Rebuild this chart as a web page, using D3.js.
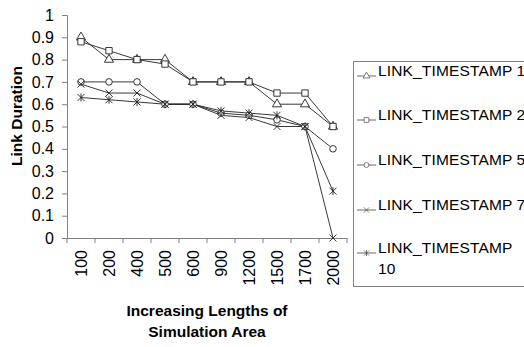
<!DOCTYPE html>
<html>
<head>
<meta charset="utf-8">
<script src="https://cdn.jsdelivr.net/npm/d3@7"></script>
<style>
  body { margin: 0; background: #fff; }
  svg { display: block; font-family: "Liberation Sans", Arial, sans-serif; }
</style>
</head>
<body>
<div id="container"></div>
<script>
// DATA
const categories = ["100","200","400","500","600","900","1200","1500","1700","2000"];
const seriesNames = ["LINK_TIMESTAMP 1","LINK_TIMESTAMP 2","LINK_TIMESTAMP 5","LINK_TIMESTAMP 7","LINK_TIMESTAMP 10"];
const ts1  = [0.90, 0.80, 0.80, 0.80, 0.70, 0.70, 0.70, 0.60, 0.60, 0.50];
const ts2  = [0.88, 0.84, 0.80, 0.78, 0.70, 0.70, 0.70, 0.65, 0.65, 0.50];
const ts5  = [0.70, 0.70, 0.70, 0.60, 0.60, 0.56, 0.55, 0.53, 0.50, 0.40];
const ts7  = [0.69, 0.65, 0.65, 0.60, 0.60, 0.55, 0.54, 0.50, 0.50, 0.00];
const ts10 = [0.63, 0.62, 0.61, 0.60, 0.60, 0.57, 0.56, 0.55, 0.50, 0.21];
const yTicks = d3.range(0, 11).map(i => i / 10);

const allSeries = [ts1, ts2, ts5, ts7, ts10];
const markerKinds = ["triangle", "square", "circle", "x", "star"];

//SVG
const width = 524;
const height = 347;
const svg = d3.select("#container").append("svg")
    .attr("width", width)
    .attr("height", height);

//SCALES
const x = d3.scaleBand().domain(categories).range([67, 347]);
const y = d3.scaleLinear().domain([0, 1]).range([238, 15]);

// marker paths
function markerPath(kind) {
  if (kind === "triangle") return d3.symbol(d3.symbolTriangle, 36)();
  if (kind === "square") return d3.symbol(d3.symbolSquare, 40)();
  if (kind === "circle") return d3.symbol(d3.symbolCircle, 34)();
  const r = 3.5;
  if (kind === "x") return `M${-r},${-r}L${r},${r}M${-r},${r}L${r},${-r}`;
  // asterisk
  return `M${-r},${-r}L${r},${r}M${-r},${r}L${r},${-r}M0,${-r - 0.5}L0,${r + 0.5}`;
}

//AXES
const yAxis = svg.append("g")
    .attr("transform", "translate(67,0)")
    .call(d3.axisLeft(y).tickValues(yTicks).tickSize(5).tickPadding(8)
      .tickFormat(d3.format(".1~f")));
yAxis.select(".domain").attr("stroke", "#808080");
yAxis.selectAll(".tick line").attr("stroke", "#808080");
yAxis.selectAll(".tick text").attr("font-size", 16).attr("fill", "#000")
    .attr("font-family", "Liberation Sans, Arial, sans-serif");

const xAxis = svg.append("g")
    .attr("transform", "translate(0,238)")
    .call(d3.axisBottom(x).tickSize(0).tickSizeOuter(0).tickPadding(0));
xAxis.select(".domain").attr("stroke", "#808080");
xAxis.selectAll(".tick text")
    .attr("font-size", 16)
    .attr("font-family", "Liberation Sans, Arial, sans-serif")
    .attr("fill", "#000")
    .attr("transform", "rotate(-90)")
    .attr("text-anchor", "end")
    .attr("x", -12)
    .attr("y", 0)
    .attr("dy", "0.35em");

// boundary ticks between categories
const bounds = categories.map(c => x(c)).concat([x.range()[1]]);
svg.append("g").selectAll("line")
  .data(bounds)
  .enter().append("line")
    .attr("x1", d => d).attr("x2", d => d)
    .attr("y1", 238).attr("y2", 243)
    .attr("stroke", "#808080");

// AXIS TITLES
svg.append("text")
    .attr("transform", "translate(22,116) rotate(-90)")
    .attr("text-anchor", "middle")
    .attr("font-size", 15.5)
    .attr("font-weight", "bold")
    .text("Link Duration");

svg.append("text")
    .attr("x", 207).attr("y", 316)
    .attr("text-anchor", "middle")
    .attr("font-size", 15.5)
    .attr("font-weight", "bold")
    .text("Increasing Lengths of");
svg.append("text")
    .attr("x", 207).attr("y", 337)
    .attr("text-anchor", "middle")
    .attr("font-size", 15.5)
    .attr("font-weight", "bold")
    .text("Simulation Area");

//LINES
const line = d3.line()
    .x((d, i) => x(categories[i]) + x.bandwidth() / 2)
    .y(d => y(d));

allSeries.forEach(function(s, k) {
  svg.append("path")
      .datum(s)
      .attr("fill", "none")
      .attr("stroke", "#222")
      .attr("stroke-width", 0.9)
      .attr("d", line);
});

//MARKERS
allSeries.forEach(function(s, k) {
  svg.append("g").selectAll("path")
    .data(s)
    .enter().append("path")
      .attr("transform", (d, i) => "translate(" + (x(categories[i]) + x.bandwidth() / 2) + "," + y(d) + ")")
      .attr("d", markerPath(markerKinds[k]))
      .attr("fill", "#fff")
      .attr("stroke", "#222")
      .attr("stroke-width", 0.9);
});

//LEGEND
const legend = svg.append("g");
legend.append("rect")
    .attr("x", 353.5).attr("y", 61.5)
    .attr("width", 200).attr("height", 225)
    .attr("fill", "#fff")
    .attr("stroke", "#808080");

const legendY = [76, 120, 165, 210, 253];
seriesNames.forEach(function(name, k) {
  const g = legend.append("g").attr("transform", "translate(0," + legendY[k] + ")");
  g.append("line").attr("x1", 357).attr("x2", 376).attr("y1", 0).attr("y2", 0)
    .attr("stroke", "#444").attr("stroke-width", 0.8);
  g.append("path").attr("transform", "translate(366.5,0) scale(0.75)")
    .attr("d", markerPath(markerKinds[k]))
    .attr("fill", "#fff").attr("stroke", "#444").attr("stroke-width", 0.9);
  const parts = name === "LINK_TIMESTAMP 10" ? ["LINK_TIMESTAMP", "10"] : [name];
  const t = g.append("text").attr("x", 378).attr("y", 0).attr("dy", "0.35em")
    .attr("font-size", 15.5)
    .attr("letter-spacing", 0.15);
  parts.forEach((p, j) => t.append("tspan").attr("x", 378).attr("dy", j ? 21 : 0).text(p));
});
</script>
</body>
</html>
